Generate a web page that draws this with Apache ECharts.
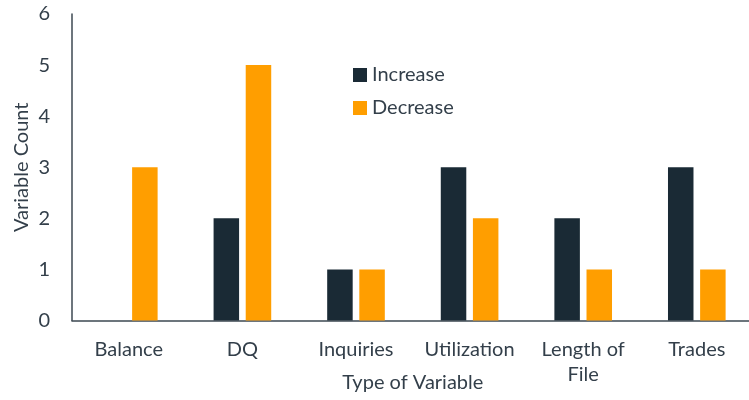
<!DOCTYPE html>
<html>
<head>
<meta charset="utf-8">
<script src="https://cdn.jsdelivr.net/npm/echarts@6/dist/echarts.min.js"></script>
<style>
  html, body { margin: 0; padding: 0; background: #ffffff; }
  #chart { width: 749px; height: 400px; }
</style>
</head>
<body>
<div id="chart"></div>
<script>
const categories = ['Balance', 'DQ', 'Inquiries', 'Utilization', 'Length of\nFile', 'Trades'];
const increaseValues = [0, 2, 1, 3, 2, 3];
const decreaseValues = [3, 5, 1, 2, 1, 1];
const yTicks = { min: 0, max: 6, interval: 1 };

const textColor = '#333f4a';
const fontFamily = 'Lato, "Open Sans", sans-serif';
const fontSize = 20;

const chart = echarts.init(document.getElementById('chart'), null, { renderer: 'canvas' });
chart.setOption({
  backgroundColor: '#ffffff',
  animation: false,
  textStyle: { fontFamily: fontFamily, color: textColor },
  grid: { left: 72, top: 14, width: 681.6, bottom: 79.5, containLabel: false, outerBoundsMode: 'none' },
  legend: {
    orient: 'vertical',
    left: 353,
    top: 64,
    padding: 0,
    itemWidth: 14,
    itemHeight: 14,
    itemGap: 11,
    icon: 'rect',
    textStyle: { fontSize: fontSize, color: textColor, fontFamily: fontFamily, lineHeight: 22, padding: [0, 0, 0, 0] },
    data: ['Increase', 'Decrease']
  },
  xAxis: {
    type: 'category',
    data: categories,
    name: 'Type of Variable',
    nameLocation: 'middle',
    nameGap: 52,
    nameMoveOverlap: false,
    nameTextStyle: { fontSize: fontSize, color: textColor, fontFamily: fontFamily },
    axisLine: { show: true, lineStyle: { color: '#3d4852', width: 1.5 } },
    axisTick: { show: false },
    axisLabel: { fontSize: fontSize, color: textColor, fontFamily: fontFamily, margin: 17, lineHeight: 25, interval: 0 }
  },
  yAxis: {
    type: 'value',
    min: yTicks.min,
    max: yTicks.max,
    interval: yTicks.interval,
    name: 'Variable Count',
    nameLocation: 'middle',
    nameGap: 40,
    nameMoveOverlap: false,
    nameTextStyle: { fontSize: fontSize, color: textColor, fontFamily: fontFamily },
    axisLine: { show: true, lineStyle: { color: '#3d4852', width: 1.5 } },
    axisTick: { show: false },
    splitLine: { show: false },
    axisLabel: { fontSize: fontSize, color: textColor, fontFamily: fontFamily, margin: 22 }
  },
  series: [
    {
      name: 'Increase',
      type: 'bar',
      data: increaseValues,
      barWidth: 25.5,
      barGap: '26%',
      itemStyle: { color: '#1a2a35' }
    },
    {
      name: 'Decrease',
      type: 'bar',
      data: decreaseValues,
      barWidth: 25.5,
      barGap: '26%',
      itemStyle: { color: '#ff9e00' }
    }
  ]
});
</script>
</body>
</html>
